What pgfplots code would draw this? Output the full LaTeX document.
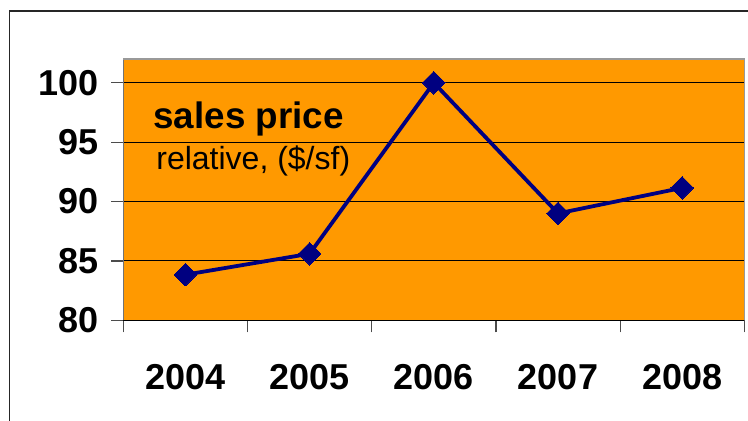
\documentclass[border=0pt]{standalone}
\usepackage{pgfplots}
\pgfplotsset{compat=1.18}
\usepackage{fontspec}
\setmainfont{Liberation Sans}
\definecolor{plotorange}{RGB}{255,153,0}
\definecolor{linenavy}{RGB}{0,0,128}

\begin{document}
\begin{tikzpicture}
\useasboundingbox (0,0) rectangle (374pt,210.5pt);
% outer chart frame (cut at right and bottom)
\draw[line width=0.6pt, black!85] (4.65pt,0pt) -- (4.65pt,205pt) -- (374pt,205pt);
\begin{axis}[
  at={(61.65pt,50.35pt)}, anchor=south west,
  scale only axis, width=310.5pt, height=130.65pt,
  xmin=0.5, xmax=5.5, ymin=80, ymax=102,
  axis lines*=left,
  x axis line style={black, line width=0.6pt},
  y axis line style={black!55, line width=0.6pt},
  axis background/.style={fill=plotorange},
  xtick={0.5,1.5,...,5.5}, xticklabels={},
  extra x ticks={1,2,3,4,5},
  extra x tick labels={2004,2005,2006,2007,2008},
  extra x tick style={major tick length=0pt, grid=none},
  ytick={80,85,90,95,100},
  tick align=outside, major tick length=6pt,
  tick style={black!70, line width=0.6pt},
  ymajorgrids, grid style={black, line width=0.5pt},
  /pgf/number format/assume math mode=true,
  tick label style={font=\fontsize{18}{20}\selectfont\bfseries},
  xticklabel style={anchor=base, yshift=-34.8pt, inner sep=0pt},
  yticklabel style={anchor=east, inner sep=0pt, xshift=-6pt},
  clip=false,
]
\addplot[linenavy, line width=1.9pt, mark=square*, mark size=4pt,
  mark options={rotate=45, fill=linenavy, draw=linenavy, line width=0pt}]
  coordinates {(1,83.84) (2,85.6) (3,100) (4,89.0) (5,91.15)};
\draw[black!40, line width=0.6pt] (rel axis cs:0,1) -- (rel axis cs:1,1) -- (rel axis cs:1,0);
\end{axis}
\node[anchor=base west, inner sep=0pt, font=\fontsize{18.4}{20}\selectfont\bfseries] at (76.5pt,146.35pt) {sales price};
\node[anchor=base west, inner sep=0pt, font=\fontsize{16}{18}\selectfont] at (78pt,125.85pt) {relative, (\$/sf)};
\end{tikzpicture}
\end{document}
